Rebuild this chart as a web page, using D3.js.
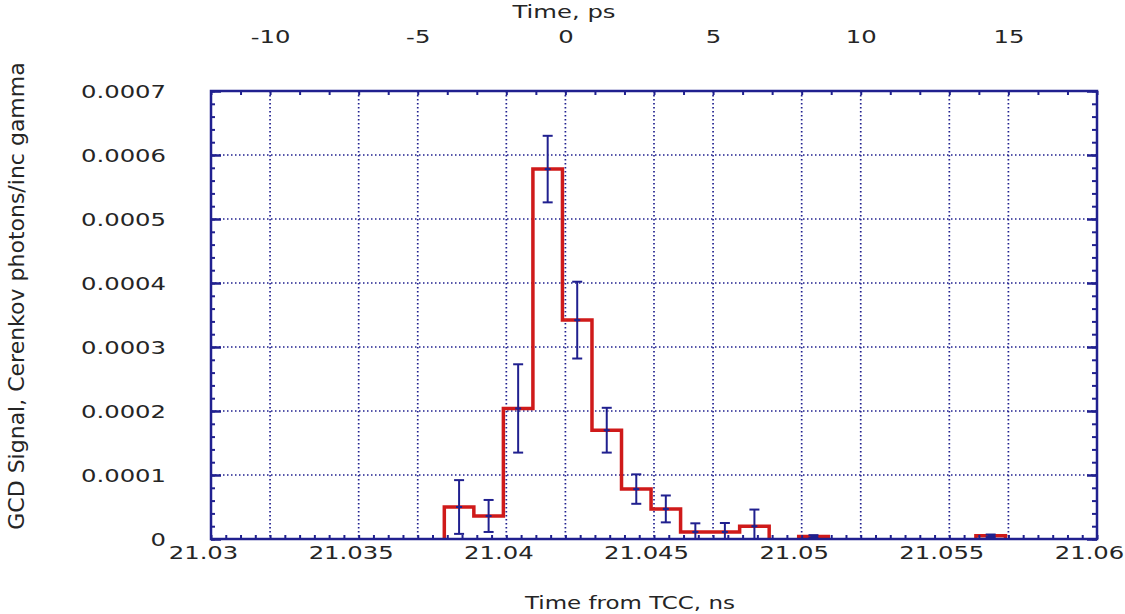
<!DOCTYPE html>
<html>
<head>
<meta charset="utf-8">
<script src="https://cdn.jsdelivr.net/npm/d3@7"></script>
<style>
  html, body { margin: 0; padding: 0; background: #ffffff; }
  svg { display: block; }
</style>
</head>
<body>
<svg id="chart" width="1125" height="614"></svg>
<script>
// ---------------- data ----------------
const binCenters = [21.0384, 21.0394, 21.0404, 21.0414, 21.0424, 21.0434, 21.0444, 21.0454,
                    21.0464, 21.0474, 21.0484, 21.0494, 21.0504, 21.0514, 21.0524, 21.0534,
                    21.0544, 21.0554, 21.0564];
const binWidth = 0.001;
const signal = [5.0e-5, 3.6e-5, 2.04e-4, 5.78e-4, 3.42e-4, 1.70e-4, 7.8e-5, 4.7e-5,
                1.1e-5, 1.1e-5, 2.0e-5, 0, 4e-6, 0, 0, 0,
                0, 0, 5e-6];
const errors = [4.2e-5, 2.5e-5, 6.9e-5, 5.2e-5, 6.0e-5, 3.5e-5, 2.3e-5, 2.1e-5,
                1.35e-5, 1.4e-5, 2.6e-5, 0, 2e-6, 0, 0, 0,
                0, 0, 2e-6];

const bottomTicks = [21.03, 21.035, 21.04, 21.045, 21.05, 21.055, 21.06];
const bottomTickLabels = ["21.03", "21.035", "21.04", "21.045", "21.05", "21.055", "21.06"];
const topTicks = [-10, -5, 0, 5, 10, 15];
const topTickLabels = ["-10", "-5", "0", "5", "10", "15"];
const yTicks = [0, 0.0001, 0.0002, 0.0003, 0.0004, 0.0005, 0.0006, 0.0007];
const yTickLabels = ["0", "0.0001", "0.0002", "0.0003", "0.0004", "0.0005", "0.0006", "0.0007"];

const bottomDomain = [21.03, 21.06];
const topDomain = [-12, 18];
const yDomain = [0, 0.0007];

const bottomTitle = "Time from TCC, ns";
const topTitle = "Time, ps";
const yTitle = "GCD Signal, Cerenkov photons/inc gamma";

// ---------------- layout & style ----------------
const L = 211, R = 1097, T = 91, B = 539;
const SX = 1.35;                 // horizontal stretch of the text
const FONT = "'DejaVu Sans', sans-serif";
const TXT = "#252525";
const NAVY = "#20208f";
const RED = "#cf1a1a";

const svg = d3.select("#chart");

const x = d3.scaleLinear().domain(bottomDomain).range([L, R]);
const xTop = d3.scaleLinear().domain(topDomain).range([L, R]);
const y = d3.scaleLinear().domain(yDomain).range([B, T]);

// ---------------- grid ----------------
const grid = svg.append("g").attr("stroke", NAVY).attr("stroke-width", 1.7)
  .attr("stroke-dasharray", "1.5,2.5").attr("fill", "none");
bottomTicks.slice(1, -1).forEach(v => {
  grid.append("line").attr("x1", x(v)).attr("x2", x(v)).attr("y1", T).attr("y2", B);
});
topTicks.forEach(v => {
  grid.append("line").attr("x1", xTop(v)).attr("x2", xTop(v)).attr("y1", T).attr("y2", B);
});
yTicks.slice(1, -1).forEach(v => {
  grid.append("line").attr("x1", L).attr("x2", R).attr("y1", y(v)).attr("y2", y(v));
});

// ---------------- histogram (step line) ----------------
const runs = [];
let cur = null;
signal.forEach((v, i) => {
  if (v > 0) {
    if (!cur) { cur = []; runs.push(cur); }
    cur.push(i);
  } else cur = null;
});
const lineGen = d3.line().x(d => x(d[0])).y(d => y(d[1]));
runs.forEach(run => {
  const pts = [];
  const first = run[0];
  pts.push([binCenters[first] - binWidth / 2, 0]);
  run.forEach(i => {
    pts.push([binCenters[i] - binWidth / 2, signal[i]]);
    pts.push([binCenters[i] + binWidth / 2, signal[i]]);
  });
  const last = run[run.length - 1];
  pts.push([binCenters[last] + binWidth / 2, 0]);
  svg.append("path").attr("d", lineGen(pts)).attr("fill", "none")
    .attr("stroke", RED).attr("stroke-width", 3.5).attr("stroke-linejoin", "miter");
});

// ---------------- error bars ----------------
const eb = svg.append("g").attr("stroke", NAVY).attr("stroke-width", 2).attr("fill", "none");
signal.forEach((v, i) => {
  if (v <= 0) return;
  const cx = x(binCenters[i]);
  const y1 = y(v + errors[i]);
  const y0 = y(Math.max(0, v - errors[i]));
  eb.append("line").attr("x1", cx).attr("x2", cx).attr("y1", y1).attr("y2", y0);
  eb.append("line").attr("x1", cx - 5).attr("x2", cx + 5).attr("y1", y1).attr("y2", y1);
  eb.append("line").attr("x1", cx - 5).attr("x2", cx + 5).attr("y1", y0).attr("y2", y0);
  eb.append("line").attr("x1", cx - 3).attr("x2", cx + 3).attr("y1", y(v)).attr("y2", y(v));
});

// ---------------- minor / major ticks (inward) ----------------
function styleTicks(g) {
  g.select(".domain").remove();
  g.selectAll("line").attr("stroke", NAVY).attr("stroke-width", 2);
  g.selectAll("text").remove();
}
svg.append("g").attr("transform", `translate(0,${B})`)
  .call(d3.axisBottom(x).tickValues(d3.range(0, 61).map(k => 21.03 + k * 0.0005)).tickSize(-4).tickFormat(""))
  .call(styleTicks);
svg.append("g").attr("transform", `translate(0,${T})`)
  .call(d3.axisTop(xTop).tickValues(d3.range(-12, 19)).tickSize(-4).tickFormat(""))
  .call(styleTicks);
const yMinor = d3.range(0, 36).map(k => k * 0.00002);
svg.append("g").attr("transform", `translate(${L},0)`)
  .call(d3.axisLeft(y).tickValues(yMinor).tickSize(-4).tickFormat("")).call(styleTicks);
svg.append("g").attr("transform", `translate(${R},0)`)
  .call(d3.axisRight(y).tickValues(yMinor).tickSize(-5).tickFormat("")).call(styleTicks);
svg.append("g").attr("transform", `translate(${L},0)`)
  .call(d3.axisLeft(y).tickValues(yTicks).tickSize(-10).tickFormat("")).call(styleTicks)
  .selectAll("line").attr("stroke-width", 2.5);
svg.append("g").attr("transform", `translate(${R},0)`)
  .call(d3.axisRight(y).tickValues(yTicks).tickSize(-10).tickFormat("")).call(styleTicks)
  .selectAll("line").attr("stroke-width", 2.5);

// ---------------- frame ----------------
svg.append("rect").attr("x", L).attr("y", T).attr("width", R - L).attr("height", B - T)
  .attr("fill", "none").attr("stroke", NAVY).attr("stroke-width", 2.5);

// ---------------- tick labels ----------------
function styleLabels(g, dx, dyCenter) {
  g.select(".domain").remove();
  g.selectAll("line").remove();
  g.selectAll("text")
    .attr("font-family", FONT).attr("font-size", 18).attr("fill", TXT)
    .attr("x", dx / SX).attr("y", dyCenter).attr("dy", "0.36em")
    .attr("transform", `scale(${SX},1)`);
}
svg.append("g").attr("transform", `translate(0,${B})`)
  .call(d3.axisBottom(x).tickValues(bottomTicks).tickFormat((d, i) => bottomTickLabels[i]))
  .call(g => styleLabels(g, -8, 14));
svg.append("g").attr("transform", `translate(0,${T})`)
  .call(d3.axisTop(xTop).tickValues(topTicks).tickFormat((d, i) => topTickLabels[i]))
  .call(g => styleLabels(g, 0, -54));
svg.append("g").attr("transform", `translate(${L},0)`)
  .call(d3.axisLeft(y).tickValues(yTicks).tickFormat((d, i) => yTickLabels[i]))
  .call(g => {
    g.select(".domain").remove();
    g.selectAll("line").remove();
    g.selectAll("text")
      .attr("font-family", FONT).attr("font-size", 18).attr("fill", TXT)
      .attr("text-anchor", "end")
      .attr("x", -45 / SX).attr("dy", "0.36em")
      .attr("transform", `scale(${SX},1)`);
  });

// ---------------- titles ----------------
svg.append("text").attr("transform", `translate(630,603) scale(${SX},1)`)
  .attr("text-anchor", "middle").attr("dy", "0.36em")
  .attr("font-family", FONT).attr("font-size", 17).attr("fill", TXT).text(bottomTitle);
svg.append("text").attr("transform", `translate(564,12) scale(${SX},1)`)
  .attr("text-anchor", "middle").attr("dy", "0.36em")
  .attr("font-family", FONT).attr("font-size", 18).attr("fill", TXT).text(topTitle);
svg.append("text").attr("transform", `translate(16,296) rotate(-90) scale(1.1,1.05)`)
  .attr("text-anchor", "middle").attr("dy", "0.36em")
  .attr("font-family", FONT).attr("font-size", 20).attr("fill", TXT).text(yTitle);
</script>
</body>
</html>
